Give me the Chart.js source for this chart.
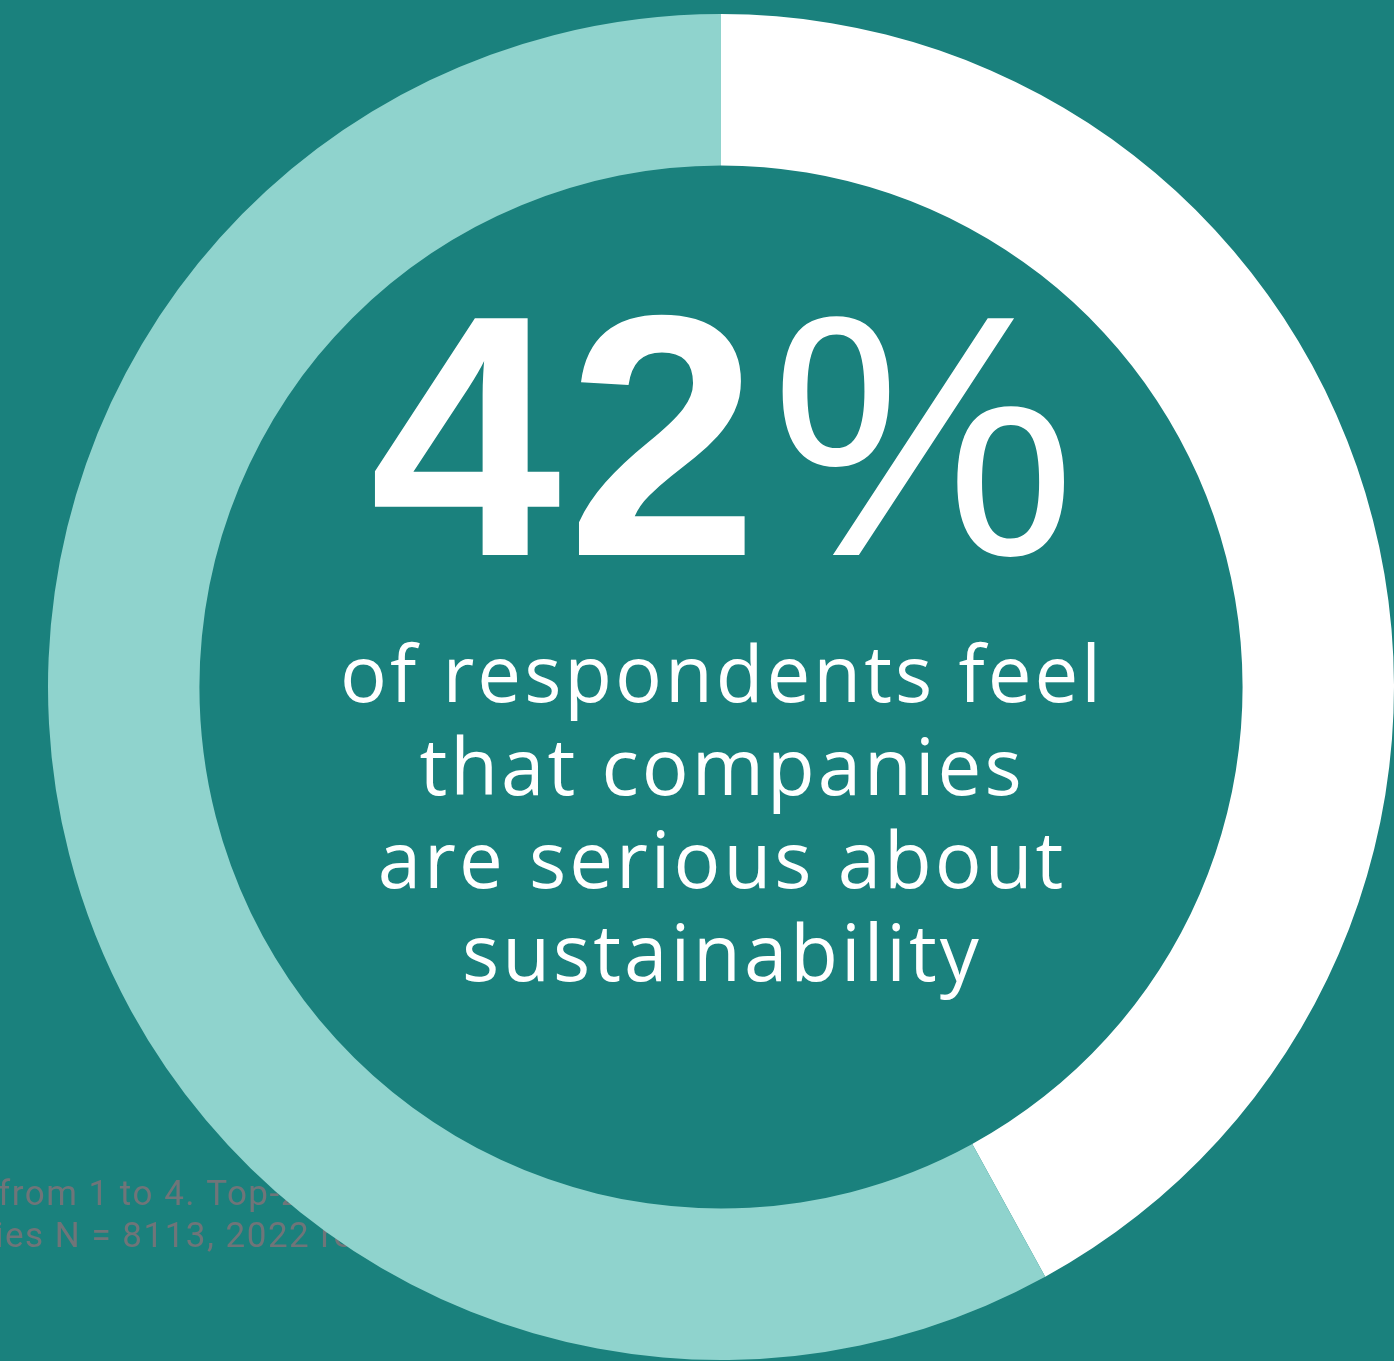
<!DOCTYPE html>
<html>
<head>
<meta charset="utf-8">
<script src="https://cdn.jsdelivr.net/npm/chart.js@4.4.0/dist/chart.umd.min.js"></script>
<style>
  html, body { margin: 0; padding: 0; background: #1a817d; overflow: hidden; }
  #wrap { width: 1394px; height: 1361px; position: relative; }
</style>
</head>
<body>
<div id="wrap"><canvas id="donut"></canvas></div>
<script>
// data
const segments = ['Serious about sustainability', 'Other'];
const shares = [42, 58];
const segmentColors = ['#ffffff', '#8fd3cd'];
const headline = '42';
const headlineUnit = '%';
const captionLines = ['of respondents feel', 'that companies', 'are serious about', 'sustainability'];
// footnote is mostly hidden behind the ring
const footnoteLines = [
  'from 1 to 4. Top-2 box values',
  'ies N = 8113, 2022 respondents'
];

// footnote sits under the ring
const footnotePlugin = {
  id: 'footnote',
  beforeDatasetsDraw(chart) {
    const ctx = chart.ctx;
    ctx.save();
    ctx.font = '35px Roboto';
    ctx.fillStyle = '#6f7579';
    ctx.textBaseline = 'alphabetic';
    ctx.textAlign = 'left';
    ctx.letterSpacing = '1.5px';
    ctx.fillText(footnoteLines[0], -2, 1205);
    ctx.fillText(footnoteLines[1], -5, 1247);
    ctx.restore();
  }
};

// big number + caption in the hole
const centerText = {
  id: 'centerText',
  afterDatasetsDraw(chart) {
    const ctx = chart.ctx;
    const meta = chart.getDatasetMeta(0);
    const cx = meta.data[0].x;
    ctx.save();
    ctx.fillStyle = '#ffffff';
    ctx.textBaseline = 'alphabetic';
    ctx.textAlign = 'left';

    // 42%
    const big = 344;
    ctx.letterSpacing = '6px';
    ctx.font = 'bold ' + big + 'px "Liberation Sans"';
    const wNum = ctx.measureText(headline).width;
    ctx.font = big + 'px "Liberation Sans"';
    const wPct = ctx.measureText(headlineUnit).width;
    let x = cx - (wNum + wPct) / 2 + 2;
    ctx.font = 'bold ' + big + 'px "Liberation Sans"';
    ctx.fillText(headline, x, 555);
    ctx.font = big + 'px "Liberation Sans"';
    ctx.fillText(headlineUnit, x + wNum + 6, 555);

    // caption
    ctx.textAlign = 'center';
    ctx.font = '78px "Open Sans"';
    ctx.letterSpacing = '3px';
    const base = 702;
    captionLines.forEach((line, i) => {
      ctx.fillText(line, cx + 1, base + i * 93);
    });
    ctx.restore();
  }
};

const ctx = document.getElementById('donut').getContext('2d');
const chart = new Chart(ctx, {
  type: 'doughnut',
  data: {
    labels: segments,
    datasets: [{
      data: shares,
      backgroundColor: segmentColors,
      borderWidth: 0,
      hoverOffset: 0
    }]
  },
  options: {
    responsive: true,
    maintainAspectRatio: false,
    animation: false,
    cutout: '77.5%',
    layout: {
      padding: { left: 48, right: 0, top: 14, bottom: 1 }
    },
    plugins: {
      legend: { display: false },
      tooltip: { enabled: false }
    }
  },
  plugins: [footnotePlugin, centerText]
});
</script>
</body>
</html>
